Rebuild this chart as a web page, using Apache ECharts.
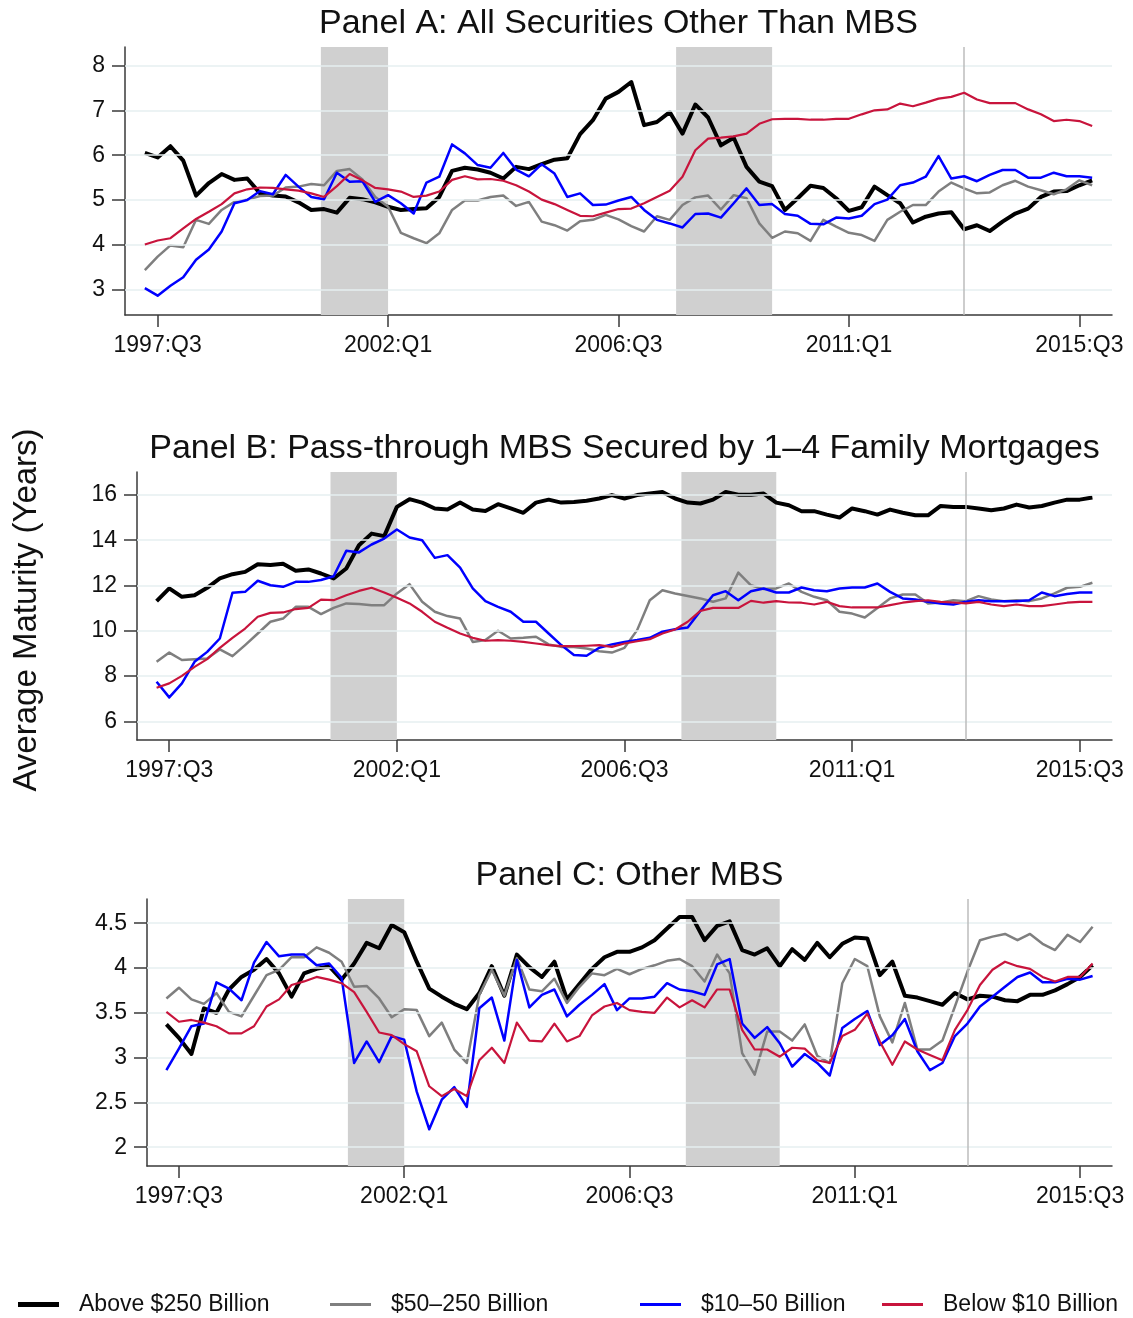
<!DOCTYPE html>
<html>
<head>
<meta charset="utf-8">
<title>Average Maturity by Bank Size</title>
<script src="https://cdn.jsdelivr.net/npm/echarts@6.0.0/dist/echarts.min.js"></script>
<style>
  html, body { margin: 0; padding: 0; background: #fff; }
  #chart { width: 1133px; height: 1318px; }
</style>
</head>
<body>
<div id="chart"></div>
<script>
// quarters 1997:Q2 .. 2015:Q4 (x = position in this list)
const quarters = []
for (let y = 1997; y <= 2015; y++) {
  for (let q = 1; q <= 4; q++) {
    if (y === 1997 && q < 2) continue
    quarters.push(y + ':Q' + q)
  }
}
const tickQuarters = ['1997:Q3', '2002:Q1', '2006:Q3', '2011:Q1', '2015:Q3']
const seriesNames = ['Above $250 Billion', '$50–250 Billion', '$10–50 Billion', 'Below $10 Billion']
const panelTitles = [
  'Panel A: All Securities Other Than MBS',
  'Panel B: Pass-through MBS Secured by 1–4 Family Mortgages',
  'Panel C: Other MBS',
]
const yAxisTitle = 'Average Maturity (Years)'

// y tick labels per panel
const ticksA = [3, 4, 5, 6, 7, 8]
const ticksB = [6, 8, 10, 12, 14, 16]
const ticksC = [2, 2.5, 3, 3.5, 4, 4.5]

// shaded periods (x positions) and the vertical marker quarter
const shadesAB = [[13.75, 19], [41.5, 49]]
const shadesC = [[14.5, 19], [41.5, 49]]
const markerQuarter = '2013:Q2'

// Panel A: all securities other than MBS
const aAbove250 = [6.05, 5.95, 6.2, 5.88, 5.1, 5.38, 5.58, 5.45, 5.48, 5.15, 5.1, 5.08, 4.95, 4.78, 4.8, 4.72, 5.05, 5.02, 4.95, 4.85, 4.78, 4.8, 4.82, 5.07, 5.65,
  5.72, 5.68, 5.61, 5.48, 5.74, 5.69, 5.8, 5.9, 5.93, 6.47, 6.78, 7.26, 7.41, 7.63, 6.67, 6.74, 6.96, 6.48, 7.13, 6.84, 6.22, 6.39, 5.74, 5.41, 5.31,
  4.78, 5.04, 5.32, 5.27, 5.04, 4.76, 4.84, 5.3, 5.11, 4.93, 4.5, 4.63, 4.7, 4.73, 4.35, 4.44, 4.31, 4.52, 4.7, 4.81, 5.07, 5.19, 5.2, 5.33, 5.44]
const a50to250 = [3.44, 3.74, 3.99, 3.95, 4.56, 4.47, 4.78, 4.96, 5.01, 5.09, 5.1, 5.28, 5.3, 5.36, 5.33, 5.65, 5.69, 5.46, 5.07, 4.85, 4.27, 4.15, 4.04, 4.26, 4.78,
  4.99, 4.99, 5.07, 5.1, 4.87, 4.96, 4.52, 4.44, 4.32, 4.53, 4.56, 4.67, 4.57, 4.42, 4.3, 4.64, 4.56, 4.89, 5.06, 5.1, 4.79, 5.11, 5.04, 4.48, 4.16,
  4.3, 4.26, 4.09, 4.56, 4.41, 4.27, 4.22, 4.09, 4.56, 4.74, 4.89, 4.89, 5.19, 5.39, 5.26, 5.15, 5.17, 5.33, 5.43, 5.3, 5.22, 5.13, 5.24, 5.44, 5.33]
const a10to50 = [3.04, 2.87, 3.09, 3.28, 3.67, 3.9, 4.3, 4.93, 5.0, 5.2, 5.13, 5.56, 5.3, 5.07, 5.02, 5.61, 5.41, 5.42, 4.96, 5.11, 4.93, 4.7, 5.39, 5.52, 6.24,
  6.04, 5.78, 5.72, 6.05, 5.68, 5.53, 5.8, 5.59, 5.07, 5.15, 4.89, 4.9, 4.99, 5.07, 4.78, 4.56, 4.48, 4.39, 4.69, 4.7, 4.61, 4.93, 5.26, 4.89, 4.91,
  4.69, 4.65, 4.47, 4.46, 4.61, 4.59, 4.65, 4.91, 5.01, 5.33, 5.39, 5.52, 5.98, 5.48, 5.53, 5.42, 5.56, 5.67, 5.67, 5.5, 5.5, 5.61, 5.53, 5.53, 5.5]
const aBelow10 = [4.01, 4.1, 4.15, 4.37, 4.58, 4.74, 4.91, 5.15, 5.24, 5.28, 5.27, 5.24, 5.21, 5.15, 5.07, 5.31, 5.58, 5.44, 5.27, 5.24, 5.19, 5.07, 5.1, 5.19, 5.45,
  5.53, 5.46, 5.47, 5.43, 5.33, 5.19, 5.01, 4.91, 4.78, 4.65, 4.64, 4.72, 4.8, 4.81, 4.93, 5.07, 5.21, 5.52, 6.11, 6.37, 6.39, 6.42, 6.48, 6.7, 6.8,
  6.81, 6.81, 6.79, 6.79, 6.81, 6.81, 6.91, 7.0, 7.02, 7.15, 7.09, 7.17, 7.26, 7.3, 7.39, 7.24, 7.16, 7.16, 7.16, 7.02, 6.91, 6.76, 6.79, 6.76, 6.65]

// Panel B: pass-through MBS
const bAbove250 = [11.31, 11.87, 11.5, 11.57, 11.9, 12.31, 12.5, 12.6, 12.94, 12.9, 12.96, 12.65, 12.71, 12.53, 12.31, 12.75, 13.78, 14.29, 14.18, 15.47, 15.81, 15.66, 15.4, 15.35, 15.66,
  15.35, 15.29, 15.59, 15.4, 15.21, 15.66, 15.79, 15.66, 15.69, 15.74, 15.84, 15.99, 15.84, 15.99, 16.06, 16.13, 15.84, 15.66, 15.62, 15.79, 16.13, 16.01, 16.01, 16.06, 15.66,
  15.54, 15.28, 15.28, 15.13, 15.0, 15.4, 15.28, 15.13, 15.35, 15.21, 15.1, 15.1, 15.51, 15.47, 15.47, 15.4, 15.32, 15.4, 15.57, 15.44, 15.51, 15.66, 15.79, 15.79, 15.88]
const b50to250 = [8.63, 9.04, 8.71, 8.74, 8.78, 9.18, 8.88, 9.37, 9.88, 10.4, 10.54, 11.06, 11.06, 10.74, 11.01, 11.21, 11.18, 11.13, 11.13, 11.65, 12.06, 11.28, 10.84, 10.65, 10.54,
  9.51, 9.59, 10.0, 9.66, 9.69, 9.74, 9.4, 9.29, 9.29, 9.22, 9.1, 9.04, 9.25, 10.03, 11.35, 11.79, 11.65, 11.54, 11.43, 11.28, 11.43, 12.57, 12.01, 11.84, 11.87,
  12.09, 11.72, 11.5, 11.35, 10.84, 10.76, 10.59, 11.01, 11.43, 11.6, 11.6, 11.21, 11.25, 11.35, 11.31, 11.53, 11.38, 11.31, 11.35, 11.31, 11.43, 11.65, 11.9, 11.94, 12.12]
const b10to50 = [7.75, 7.06, 7.68, 8.63, 9.07, 9.66, 11.68, 11.72, 12.21, 12.01, 11.94, 12.16, 12.16, 12.24, 12.41, 13.53, 13.46, 13.81, 14.07, 14.47, 14.12, 14.0, 13.22, 13.34, 12.79,
  11.87, 11.31, 11.06, 10.84, 10.4, 10.4, 9.88, 9.37, 8.93, 8.9, 9.25, 9.4, 9.51, 9.59, 9.69, 9.96, 10.07, 10.15, 10.88, 11.57, 11.75, 11.35, 11.75, 11.87, 11.69,
  11.69, 11.91, 11.79, 11.75, 11.87, 11.91, 11.91, 12.09, 11.72, 11.43, 11.38, 11.28, 11.21, 11.16, 11.28, 11.35, 11.31, 11.31, 11.31, 11.35, 11.69, 11.53, 11.62, 11.69, 11.69]
const bBelow10 = [7.49, 7.68, 8.01, 8.41, 8.75, 9.25, 9.69, 10.1, 10.62, 10.79, 10.81, 10.96, 11.01, 11.38, 11.35, 11.57, 11.76, 11.9, 11.69, 11.46, 11.21, 10.84, 10.4, 10.13, 9.88,
  9.69, 9.56, 9.59, 9.56, 9.51, 9.44, 9.37, 9.32, 9.32, 9.34, 9.37, 9.29, 9.44, 9.54, 9.63, 9.88, 10.06, 10.4, 10.88, 11.01, 11.01, 11.01, 11.32, 11.24, 11.31,
  11.25, 11.24, 11.16, 11.28, 11.09, 11.03, 11.03, 11.03, 11.13, 11.24, 11.31, 11.35, 11.28, 11.25, 11.21, 11.28, 11.16, 11.09, 11.16, 11.09, 11.09, 11.16, 11.24, 11.28, 11.28]

// Panel C: other MBS
const cAbove250 = [3.37, 3.22, 3.04, 3.55, 3.5, 3.76, 3.9, 3.98, 4.1, 3.94, 3.68, 3.94, 3.99, 4.02, 3.87, 4.05, 4.28, 4.22, 4.48, 4.4, 4.07, 3.77, 3.68, 3.6,
  3.54, 3.72, 4.02, 3.69, 4.15, 4.01, 3.9, 4.07, 3.65, 3.82, 3.99, 4.12, 4.18, 4.18, 4.23, 4.31, 4.44, 4.57, 4.57, 4.31, 4.47, 4.52, 4.2, 4.15, 4.22, 4.02,
  4.21, 4.09, 4.28, 4.12, 4.27, 4.34, 4.33, 3.92, 4.07, 3.69, 3.67, 3.63, 3.59, 3.72, 3.65, 3.69, 3.68, 3.64, 3.63, 3.7, 3.7, 3.75, 3.82, 3.9, 4.03]
const c50to250 = [3.66, 3.78, 3.65, 3.6, 3.72, 3.51, 3.46, 3.69, 3.92, 3.98, 4.12, 4.12, 4.23, 4.17, 4.07, 3.79, 3.8, 3.66, 3.45, 3.54, 3.53, 3.24, 3.39, 3.09,
  2.94, 3.7, 3.98, 3.69, 4.11, 3.76, 3.74, 3.88, 3.61, 3.79, 3.94, 3.92, 3.99, 3.93, 3.99, 4.03, 4.08, 4.1, 4.02, 3.85, 4.15, 3.94, 3.05, 2.81, 3.29, 3.29,
  3.19, 3.37, 3.02, 2.94, 3.83, 4.1, 4.02, 3.46, 3.17, 3.61, 3.09, 3.09, 3.19, 3.57, 3.96, 4.31, 4.35, 4.38, 4.31, 4.38, 4.27, 4.2, 4.37, 4.29, 4.46]
const c10to50 = [2.86, 3.1, 3.35, 3.38, 3.84, 3.77, 3.64, 4.06, 4.29, 4.13, 4.15, 4.15, 4.03, 4.05, 3.89, 2.94, 3.18, 2.95, 3.24, 3.2, 2.62, 2.2, 2.53, 2.67,
  2.45, 3.55, 3.67, 3.19, 4.09, 3.56, 3.7, 3.76, 3.46, 3.59, 3.7, 3.82, 3.53, 3.66, 3.66, 3.68, 3.83, 3.76, 3.74, 3.7, 4.04, 4.1, 3.38, 3.22, 3.34, 3.16,
  2.9, 3.04, 2.94, 2.8, 3.33, 3.43, 3.52, 3.14, 3.25, 3.43, 3.07, 2.86, 2.94, 3.24, 3.38, 3.57, 3.68, 3.79, 3.9, 3.95, 3.84, 3.84, 3.88, 3.87, 3.91]
const cBelow10 = [3.51, 3.4, 3.42, 3.39, 3.35, 3.27, 3.27, 3.35, 3.57, 3.65, 3.81, 3.85, 3.9, 3.87, 3.83, 3.73, 3.51, 3.28, 3.25, 3.15, 3.07, 2.68, 2.57, 2.65,
  2.57, 2.97, 3.11, 2.94, 3.39, 3.19, 3.18, 3.38, 3.18, 3.24, 3.47, 3.57, 3.61, 3.53, 3.51, 3.5, 3.67, 3.56, 3.64, 3.56, 3.76, 3.76, 3.31, 3.09, 3.09, 3.01,
  3.11, 3.1, 2.97, 2.94, 3.24, 3.31, 3.49, 3.18, 2.92, 3.18, 3.09, 3.03, 2.97, 3.31, 3.53, 3.81, 3.98, 4.07, 4.02, 3.99, 3.9, 3.85, 3.9, 3.9, 4.05]

const FONT = '"Liberation Sans", Arial, Helvetica, sans-serif'
const colors = ['#000000', '#7f7f7f', '#0000ff', '#c8143c']
const widths = [4, 2.5, 2.5, 2.2]

const panels = [
  { grid: { left: 125, top: 47, width: 987, height: 268 }, yMin: 2.44, yMax: 8.41, ticks: ticksA, shades: shadesAB, data: [aAbove250, a50to250, a10to50, aBelow10] },
  { grid: { left: 137, top: 472, width: 975, height: 268 }, yMin: 5.18, yMax: 17.01, ticks: ticksB, shades: shadesAB, data: [bAbove250, b50to250, b10to50, bBelow10] },
  { grid: { left: 147, top: 899, width: 965, height: 267 }, yMin: 1.79, yMax: 4.77, ticks: ticksC, shades: shadesC, data: [cAbove250, c50to250, c10to50, cBelow10] },
]

const tickPositions = tickQuarters.map(q => quarters.indexOf(q))
const markerX = quarters.indexOf(markerQuarter)
const axisColor = '#3a3a3a'

const chart = echarts.init(document.getElementById('chart'))

const grids = [], xAxes = [], yAxes = [], series = [], graphics = []

panels.forEach((p, k) => {
  grids.push(p.grid)
  xAxes.push({
    type: 'value', gridIndex: k, min: -1.55, max: 75.55,
    splitLine: { show: false },
    axisLine: { show: true, onZero: false, lineStyle: { color: axisColor, width: 1.5 } },
    axisTick: { show: true, customValues: tickPositions, length: 12, lineStyle: { color: axisColor, width: 1.5 } },
    axisLabel: {
      customValues: tickPositions, margin: 19, fontSize: 23, color: '#111', fontFamily: FONT,
      formatter: v => quarters[Math.round(v)],
    },
  })
  yAxes.push({
    type: 'value', gridIndex: k, min: p.yMin, max: p.yMax,
    splitLine: { show: false },
    axisLine: { show: true, onZero: false, lineStyle: { color: axisColor, width: 1.5 } },
    axisTick: { show: true, customValues: p.ticks, length: 13, lineStyle: { color: axisColor, width: 1.5 } },
    axisLabel: { customValues: p.ticks, margin: 20, fontSize: 23, color: '#111', fontFamily: FONT },
  })

  // grid lines
  series.push({
    type: 'line', xAxisIndex: k, yAxisIndex: k, data: [], z: 1, silent: true,
    markLine: {
      silent: true, symbol: ['none', 'none'], label: { show: false }, animation: false,
      lineStyle: { color: '#e6eff1', width: 1.5, type: 'solid' },
      data: p.ticks.map(v => ({ yAxis: v })),
    },
  })
  // shaded periods + vertical marker
  series.push({
    type: 'line', xAxisIndex: k, yAxisIndex: k, data: [], z: 2, silent: true,
    markArea: {
      silent: true, animation: false,
      itemStyle: { color: '#d0d0d0' },
      data: p.shades.map(s => [{ xAxis: s[0] }, { xAxis: s[1] }]),
    },
    markLine: {
      silent: true, symbol: ['none', 'none'], label: { show: false }, animation: false,
      lineStyle: { color: '#bcbcbc', width: 1.5, type: 'solid' },
      data: [{ xAxis: markerX }],
    },
  })

  p.data.forEach((vals, s) => {
    series.push({
      name: seriesNames[s], type: 'line', xAxisIndex: k, yAxisIndex: k,
      data: vals.map((v, i) => [i, v]),
      symbol: 'none', z: 3 + s,
      lineStyle: { color: colors[s], width: widths[s], join: 'round' },
      itemStyle: { color: colors[s] },
    })
  })

  graphics.push({
    type: 'text', x: p.grid.left + p.grid.width / 2, y: p.grid.top - 23,
    style: { text: panelTitles[k], font: '34px ' + FONT, fill: '#111', align: 'center', verticalAlign: 'middle' },
  })
})

graphics.push({
  type: 'text', x: 27, y: 610, rotation: Math.PI / 2,
  style: { text: yAxisTitle, font: '33px ' + FONT, fill: '#111', align: 'center', verticalAlign: 'middle' },
})

const legendLefts = [18, 330, 640, 882]
const legends = seriesNames.map((name, s) => ({
  data: [name], left: legendLefts[s], top: 1293, orient: 'horizontal',
  selectedMode: false, icon: 'rect', itemWidth: 41, itemHeight: s === 0 ? 5 : 3,
  padding: 0,
  textStyle: { fontSize: 23, color: '#111', fontFamily: FONT, padding: [0, 0, 0, 15] },
}))

chart.setOption({
  animation: false,
  backgroundColor: '#ffffff',
  grid: grids,
  xAxis: xAxes,
  yAxis: yAxes,
  legend: legends,
  graphic: graphics,
  series: series,
})

window.addEventListener('resize', () => chart.resize())
</script>
</body>
</html>
